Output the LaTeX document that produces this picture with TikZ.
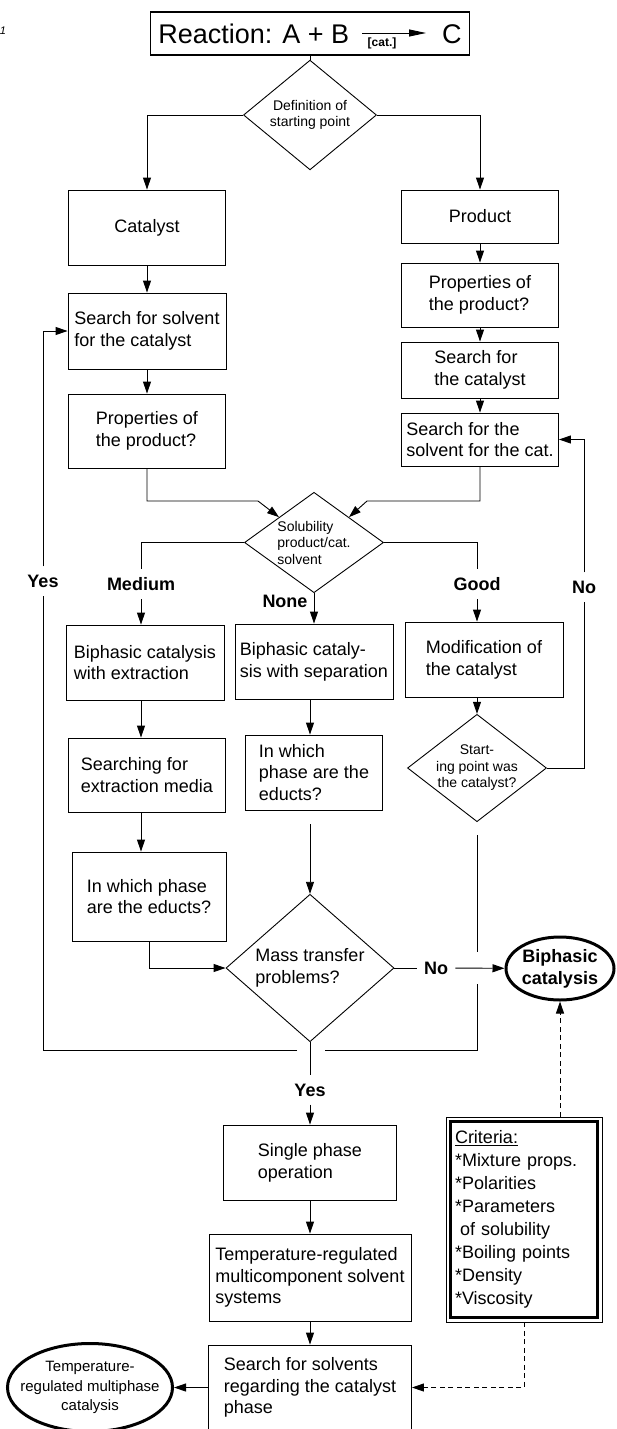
\documentclass[tikz,border=0pt]{standalone}
\usepackage{fontspec}
\setmainfont{Liberation Sans}
\usetikzlibrary{shapes.geometric,arrows.meta}

\begin{document}
\begin{tikzpicture}[x=1pt,y=-1pt,line width=0.9pt,
  box/.style={draw, rectangle, inner sep=0pt, align=left,
              font=\fontsize{18}{21.7}\selectfont},
  decision/.style={draw, diamond, inner sep=0pt,
              font=\fontsize{14}{16.5}\selectfont},
  term/.style={draw, ellipse, line width=3pt, inner sep=0pt, align=center},
  lbl/.style={inner xsep=7pt, inner ysep=8pt,
              font=\fontsize{18}{21}\selectfont\bfseries},
  arr/.style={-{Triangle[length=12pt,width=8pt]}},
  dasharr/.style={arr, dash pattern=on 5pt off 3.5pt}]

\useasboundingbox (0,0) rectangle (616,1429);

\node[font=\fontsize{11}{11}\selectfont\itshape, inner sep=0pt] (fignum) at (3,31) {1};

% reaction
\node[box, line width=1.1pt, minimum width=319pt, minimum height=43pt,
      font=\fontsize{27}{27}\selectfont] (reac) at (310,33.5)
      {Reaction: A + B\hspace{93pt}C};
\coordinate (rxa) at (362,33);
\coordinate (rxb) at (426,33);
\draw[-{Triangle[length=17pt,width=7pt]}] (rxa) -- (rxb);
\node[font=\fontsize{12}{12}\selectfont\bfseries, inner sep=0pt] (cat) at (382,43) {[cat.]};

\node[decision, minimum width=133pt, minimum height=80pt, align=center]
      (start) at (310,115) {Definition of\\starting point};
\draw (reac) -- (start);

% left start: catalyst
\node[box, minimum width=157pt, minimum height=75pt] (catl) at (147,227.5) {Catalyst};
\node[box, minimum width=158pt, minimum height=76pt] (solv) at (147,331)
      {Search for solvent\\for the catalyst};
\node[box, minimum width=157pt, minimum height=74pt] (propl) at (147,431)
      {Properties of\\the product?};
\draw[arr] (start.west) -| (catl.north);
\draw[arr] (catl) -- (solv);
\draw[arr] (solv) -- (propl);

% right start: product
\node[box, minimum width=157pt, minimum height=53pt] (prod) at (480,216.5) {Product};
\node[box, minimum width=157pt, minimum height=64pt] (propr) at (480,295)
      {Properties of\\the product?};
\node[box, minimum width=157pt, minimum height=56pt] (findcat) at (480,370)
      {Search for\\the catalyst};
\node[box, minimum width=157pt, minimum height=53pt] (findsolv) at (480,439.5)
      {Search for the\\solvent for the cat.};
\draw[arr] (start.east) -| (prod.north);
\draw[arr] (prod) -- (propr);
\draw[arr] (propr) -- (findcat);
\draw[arr] (findcat) -- (findsolv);

% solubility
\node[decision, minimum width=139pt, minimum height=85pt, inner sep=-4pt, align=left]
      (solub) at (314,542.5) {Solubility\\product/cat.\\solvent};
\coordinate (joinl) at (258,501);
\coordinate (joinr) at (367,501);
\draw[arr] (propl.south) |- (joinl) -- (solub.north west);
\draw[arr] (findsolv.south) |- (joinr) -- (solub.north east);

\node[lbl] (medium) at (141,584) {Medium};
\node[lbl] (none) at (285,601) {None};
\node[lbl] (good) at (477,584) {Good};
\node[lbl] (yes1) at (43,581) {Yes};
\node[lbl] (no1) at (584,587) {No};

\node[box, minimum width=158pt, minimum height=75pt] (ext) at (145,662.5)
      {Biphasic catalysis\\with extraction};
\node[box, minimum width=158pt, minimum height=75pt] (sep) at (314,661.5)
      {Biphasic cataly-\\sis with separation};
\node[box, minimum width=158pt, minimum height=75pt] (modif) at (484,659.5)
      {Modification of\\the catalyst};
\draw (solub.west) -| (medium.north);
\draw[arr] (medium) -- (medium |- ext.north);
\draw[arr] (solub.south) -- (sep.north);
\draw (solub.east) -| (good.north);
\draw[arr] (good) -- (good |- modif.north);

\node[box, minimum width=157pt, minimum height=74pt] (seek) at (147,775)
      {Searching for\\extraction media};
\node[box, minimum width=154pt, minimum height=89pt] (phasel) at (149,896.5)
      {In which phase\\are the educts?};
\node[box, minimum width=137pt, minimum height=75pt] (phasem) at (314,772.5)
      {In which\\phase are the\\educts?};
\node[decision, minimum width=139pt, minimum height=84pt, inner sep=-5pt, align=center]
      (check) at (477,768) {Start-\\ing point was\\the catalyst?};

\node[decision, minimum width=168pt, minimum height=128pt, align=left,
      font=\fontsize{18}{21.7}\selectfont] (mass) at (310,968)
      {Mass transfer\\problems?};

\draw[arr] (ext.south -| medium) -- (medium |- seek.north);
\draw[arr] (seek.south -| medium) -- (medium |- phasel.north);
\draw[arr] (phasel.south) |- (mass.west);
\draw[arr] (sep.south -| mass) -- (mass |- phasem.north);
\draw[arr, shorten <=14pt] (phasem.south -| mass) -- (mass.north);
\draw[arr] (modif.south -| check) -- (check.north);
\draw (check.east) -| (no1.south);
\draw[arr] (no1.north) |- (findsolv.east);

% result
\node[term, minimum width=108pt, minimum height=63pt,
      font=\fontsize{18}{22}\selectfont\bfseries] (biph) at (560,968.5)
      {Biphasic\\catalysis};
\node[lbl] (no2) at (436,968) {No};
\draw (mass.east) -- (no2);
\draw[arr] (no2) -- (biph);

% loop back
\coordinate (crossa) at (477,952);
\coordinate (crossb) at (477,984);
\coordinate (loopr) at (477,1050);
\coordinate (crossc) at (325,1050);
\coordinate (crossd) at (297,1050);
\coordinate (loopl) at (43,1050);
\draw[shorten <=13pt] (check.south) -- (crossa);
\draw (crossb) -- (loopr) -- (crossc);
\draw (crossd) -- (loopl) -- (yes1);
\draw[arr] (yes1) |- (solv.west);

% single phase
\node[lbl] (yes2) at (310,1090) {Yes};
\node[box, minimum width=173pt, minimum height=75pt] (single) at (310,1162.5)
      {Single phase\\operation};
\node[box, minimum width=202pt, minimum height=87pt] (temp) at (310,1277.5)
      {Temperature-regulated\\multicomponent solvent\\systems};
\node[box, minimum width=203pt, minimum height=85pt] (find) at (310,1387.5)
      {Search for solvents\\regarding the catalyst\\phase};
\node[term, minimum width=165pt, minimum height=88pt, inner xsep=-12pt,
      font=\fontsize{15}{19.5}\selectfont] (tmpcat) at (90,1387.5)
      {Temperature-\\regulated multiphase\\catalysis};
\draw (mass.south) -- (yes2);
\draw[arr] (yes2) -- (single);
\draw[arr] (single) -- (temp);
\draw[arr] (temp) -- (find);
\draw[arr] (find) -- (tmpcat);

% criteria
\node[box, line width=0.8pt, minimum width=156pt, minimum height=205pt,
      text width=138pt, font=\fontsize{18}{23}\selectfont] (crit) at (524,1219.5)
      {\underline{Criteria:}\\{*}Mixture props.\\{*}Polarities\\{*}Parameters\\
       \hspace*{5pt}of solubility\\{*}Boiling points\\{*}Density\\{*}Viscosity};
\draw[line width=3pt] ([shift={(4.5pt,-4.5pt)}]crit.north west)
      rectangle ([shift={(-4.5pt,4.5pt)}]crit.south east);
\draw[dasharr] (crit.north -| biph) -- (biph.south);
\draw[dasharr] (crit.south) |- (find.east);
\end{tikzpicture}
\end{document}
